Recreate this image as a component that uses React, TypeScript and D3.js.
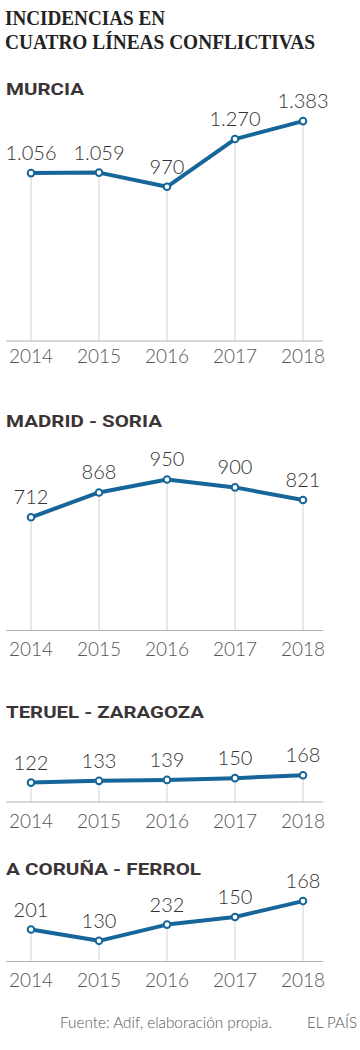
import React from "react";
import * as d3 from "d3";

const years = ["2014", "2015", "2016", "2017", "2018"];

const murciaValues = [1056, 1059, 970, 1270, 1383];
const murciaLabels = ["1.056", "1.059", "970", "1.270", "1.383"];

const madridValues = [712, 868, 950, 900, 821];
const madridLabels = ["712", "868", "950", "900", "821"];

const teruelValues = [122, 133, 139, 150, 168];
const teruelLabels = ["122", "133", "139", "150", "168"];

// plotted positions as drawn in the original (labels as printed)
const corunaValues = [201, 130, 232, 280, 380];
const corunaLabels = ["201", "130", "232", "150", "168"];

const panelTitles = ["MURCIA", "MADRID - SORIA", "TERUEL - ZARAGOZA", "A CORUÑA - FERROL"];

const BLUE = "#17669a";

const panels = [
  { title: panelTitles[0], values: murciaValues, labels: murciaLabels, titleY: 94.5, titleW: 78, axisY: 341, yearY: 362.5 },
  { title: panelTitles[1], values: madridValues, labels: madridLabels, titleY: 426.5, titleW: 156, axisY: 630.5, yearY: 656 },
  { title: panelTitles[2], values: teruelValues, labels: teruelLabels, titleY: 717.5, titleW: 198, axisY: 802, yearY: 828 },
  { title: panelTitles[3], values: corunaValues, labels: corunaLabels, titleY: 874.5, titleW: 195, axisY: 961.5, yearY: 986.5 },
];

const x = d3.scalePoint<string>().domain(years).range([31, 303]);
const PX_PER_UNIT = 0.159;

function Panel({ p }: { p: typeof panels[number] }) {
  const y = d3.scaleLinear().domain([0, 1000]).range([p.axisY, p.axisY - 1000 * PX_PER_UNIT]);
  const line = d3
    .line<number>()
    .x((_, i) => x(years[i]) as number)
    .y((d) => y(d));
  return (
    <g>
      <text
        x={6}
        y={p.titleY}
        fontFamily="Roboto, 'Open Sans', sans-serif"
        fontWeight={700}
        fontSize={17}
        fill="#3b3436"
        textLength={p.titleW}
        lengthAdjust="spacingAndGlyphs"
      >
        {p.title}
      </text>
      {p.values.map((v, i) => (
        <line
          key={"g" + i}
          x1={x(years[i])}
          x2={x(years[i])}
          y1={y(v)}
          y2={p.axisY}
          stroke="#d2d2d2"
          strokeWidth={1}
        />
      ))}
      <line x1={6} x2={323} y1={p.axisY} y2={p.axisY} stroke="#b4b4b4" strokeWidth={1.2} />
      {years.map((yr) => (
        <text
          key={yr}
          x={x(yr)}
          y={p.yearY}
          textAnchor="middle"
          fontFamily="Lato, sans-serif"
          fontWeight={300}
          fontSize={19}
          fill="#555"
        >
          {yr}
        </text>
      ))}
      <path d={line(p.values) || ""} fill="none" stroke={BLUE} strokeWidth={4} strokeLinejoin="round" strokeLinecap="round" />
      {p.values.map((v, i) => (
        <circle key={"c" + i} cx={x(years[i])} cy={y(v)} r={3.3} fill="#fff" stroke={BLUE} strokeWidth={2} />
      ))}
      {p.values.map((v, i) => (
        <text
          key={"l" + i}
          x={x(years[i])}
          y={y(v) - 13}
          textAnchor="middle"
          fontFamily="Lato, sans-serif"
          fontWeight={300}
          fontSize={20}
          fill="#333"
        >
          {p.labels[i]}
        </text>
      ))}
    </g>
  );
}

export default function App() {
  return (
    <svg
      width={360}
      height={1050}
      style={{ position: "absolute", left: 0, top: 0, display: "block", background: "#fff" }}
    >
      <text
        x={5}
        y={25}
        fontFamily="'Liberation Serif', serif"
        fontWeight={700}
        fontSize={22}
        fill="#222"
        textLength={160}
        lengthAdjust="spacingAndGlyphs"
      >
        INCIDENCIAS EN
      </text>
      <text
        x={5}
        y={49}
        fontFamily="'Liberation Serif', serif"
        fontWeight={700}
        fontSize={22}
        fill="#222"
        textLength={310}
        lengthAdjust="spacingAndGlyphs"
      >
        CUATRO LÍNEAS CONFLICTIVAS
      </text>
      {panels.map((p) => (
        <Panel key={p.title} p={p} />
      ))}
      <text x={60} y={1028} fontFamily="Lato, sans-serif" fontWeight={300} fontSize={15} fill="#555" textLength={212} lengthAdjust="spacingAndGlyphs">
        Fuente: Adif, elaboración propia.
      </text>
      <text x={307} y={1028} fontFamily="Lato, sans-serif" fontWeight={300} fontSize={15} fill="#555" textLength={50} lengthAdjust="spacingAndGlyphs">
        EL PAÍS
      </text>
    </svg>
  );
}
